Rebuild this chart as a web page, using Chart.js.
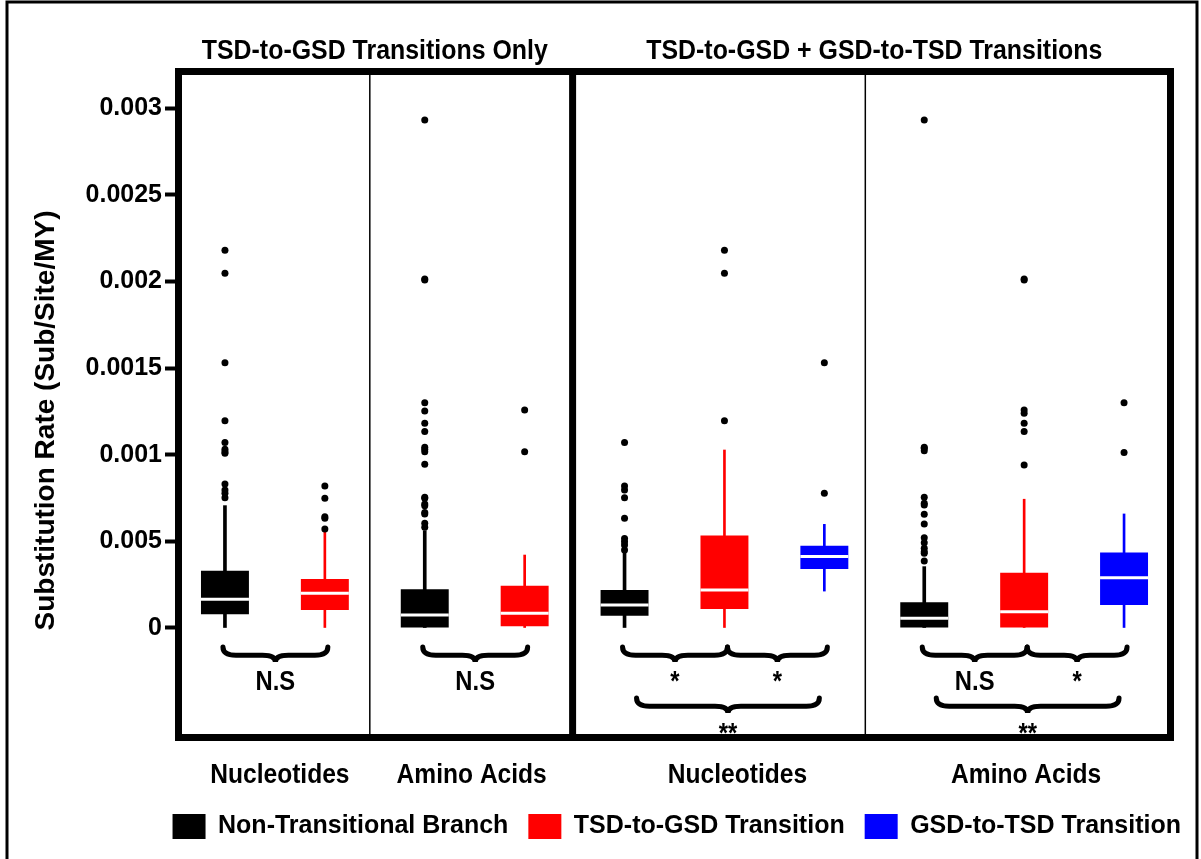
<!DOCTYPE html>
<html>
<head>
<meta charset="utf-8">
<script src="https://cdn.jsdelivr.net/npm/chart.js@4.4.1/dist/chart.umd.min.js"></script>
<style>
  html, body { margin: 0; padding: 0; background: #fff; }
  #wrap { width: 1201px; height: 859px; }
</style>
</head>
<body>
<div id="wrap"><canvas id="chart" width="1201" height="859"></canvas></div>
<script>
// one slot per box, left to right
var categories = [
  'Only|Nucleotides|Non-Transitional', 'Only|Nucleotides|TSD-to-GSD',
  'Only|Amino Acids|Non-Transitional', 'Only|Amino Acids|TSD-to-GSD',
  'Both|Nucleotides|Non-Transitional', 'Both|Nucleotides|TSD-to-GSD', 'Both|Nucleotides|GSD-to-TSD',
  'Both|Amino Acids|Non-Transitional', 'Both|Amino Acids|TSD-to-GSD', 'Both|Amino Acids|GSD-to-TSD'
];
var seriesOf = [0, 1, 0, 1, 0, 1, 2, 0, 1, 2];
var seriesNames = ['Non-Transitional Branch', 'TSD-to-GSD Transition', 'GSD-to-TSD Transition'];
var seriesColors = ['#000000', '#ff0000', '#0000ff'];

var panelLabels = ['Nucleotides', 'Amino Acids', 'Nucleotides', 'Amino Acids'];
var groupTitles = ['TSD-to-GSD Transitions Only', 'TSD-to-GSD + GSD-to-TSD Transitions'];
var yTitle = 'Substitution Rate (Sub/Site/MY)';

// box stats
var whiskerLow  = [0, 0, 0, 0, 0, 0, 0.000213, 0, 0, 0];
var q1          = [0.00008, 0.000104, 0, 0.00001, 0.000071, 0.00011, 0.00034, 0, 0, 0.000133];
var median      = [0.000166, 0.0002, 0.000075, 0.000085, 0.000133, 0.000219, 0.000412, 0.000056, 0.000094, 0.00029];
var q3          = [0.000331, 0.000283, 0.000223, 0.000244, 0.000219, 0.000533, 0.000475, 0.000148, 0.000319, 0.000435];
var whiskerHigh = [0.000706, 0.000556, 0.000561, 0.000421, 0.000435, 0.001027, 0.000598, 0.000354, 0.000743, 0.000658];
var outliers = [
  [0.000752, 0.000777, 0.000796, 0.000831, 0.001008, 0.001017, 0.001031, 0.00107, 0.001196, 0.001531, 0.002047, 0.00218],
  [0.000571, 0.000633, 0.000642, 0.000748, 0.000819],
  [0.000581, 0.000604, 0.000658, 0.000666, 0.000706, 0.000716, 0.000748, 0.000754, 0.000945, 0.001017, 0.001031, 0.001043, 0.001133, 0.001181, 0.001252, 0.0013, 0.002008, 0.002014, 0.002931],
  [0.001017, 0.001258],
  [0.00045, 0.000479, 0.000498, 0.000517, 0.000633, 0.000752, 0.000796, 0.000819, 0.00107],
  [0.001196, 0.002047, 0.00218],
  [0.000777, 0.001531],
  [0.000387, 0.000431, 0.00044, 0.00046, 0.000492, 0.000521, 0.0006, 0.000656, 0.00071, 0.00072, 0.000754, 0.001023, 0.001037, 0.001043, 0.002931],
  [0.000941, 0.001133, 0.001181, 0.001239, 0.001258, 0.002008, 0.002014],
  [0.001012, 0.0013]
];

// y tick labels as printed (0.0005 is printed as 0.005 in the figure)
var tickLabels = ['0', '0.005', '0.001', '0.0015', '0.002', '0.0025', '0.003'];

// significance brackets
var bracketFrom  = [0, 2, 4, 5, 4, 7, 8, 7];
var bracketTo    = [1, 3, 5, 6, 6, 8, 9, 9];
var bracketLevel = [0, 0, 0, 0, 1, 0, 0, 1];
var bracketText  = ['N.S', 'N.S', '*', '*', '**', 'N.S', '*', '**'];

var SANS = "'Liberation Sans', Arial, sans-serif";

var datasets = [];
seriesNames.forEach(function (name, s) {
  datasets.push({
    label: name,
    data: categories.map(function (c, i) { return seriesOf[i] === s ? [q1[i], q3[i]] : null; }),
    backgroundColor: seriesColors[s],
    borderWidth: 0,
    barPercentage: 0.48,
    categoryPercentage: 1,
    order: 2,
    yAxisID: 'y'
  });
});
seriesNames.forEach(function (name, s) {
  datasets.push({
    label: name + ' whisker',
    data: categories.map(function (c, i) { return seriesOf[i] === s ? [whiskerLow[i], whiskerHigh[i]] : null; }),
    backgroundColor: seriesColors[s],
    borderWidth: 0,
    barThickness: s === 0 ? 3 : 2,
    order: 3,
    yAxisID: 'y'
  });
});
datasets.push({
  type: 'scatter',
  label: 'median',
  data: categories.map(function (c, i) { return { x: c, y: median[i] }; }),
  pointStyle: 'line',
  pointRadius: 24,
  pointHoverRadius: 24,
  pointBorderWidth: 3,
  pointBorderColor: '#ffffff',
  order: 1,
  yAxisID: 'y'
});
var outlierPts = [];
categories.forEach(function (c, i) {
  outliers[i].forEach(function (v) { outlierPts.push({ x: c, y: v }); });
});
datasets.push({
  type: 'scatter',
  label: 'outliers',
  data: outlierPts,
  pointRadius: 3.5,
  pointBackgroundColor: '#000',
  pointBorderWidth: 0,
  order: 0,
  yAxisID: 'y'
});

// condensed-looking text: squeeze horizontally
function squeezeText(ctx, text, x, y, sx) {
  ctx.save();
  ctx.translate(x, y);
  ctx.scale(sx, 1);
  ctx.fillText(text, 0, 0);
  ctx.restore();
}

function drawBrace(ctx, x0, x1, top, h) {
  var xc = (x0 + x1) / 2, mid = top + h * 0.55, bot = top + h, r = 13;
  ctx.beginPath();
  ctx.moveTo(x0, top);
  ctx.quadraticCurveTo(x0, mid, x0 + r, mid);
  ctx.lineTo(xc - r, mid);
  ctx.quadraticCurveTo(xc, mid, xc, bot);
  ctx.quadraticCurveTo(xc, mid, xc + r, mid);
  ctx.lineTo(x1 - r, mid);
  ctx.quadraticCurveTo(x1, mid, x1, top);
  ctx.stroke();
}

var decor = {
  id: 'decor',
  beforeDraw: function (chart) {
    var ctx = chart.ctx;
    ctx.save();
    ctx.fillStyle = '#fff';
    ctx.fillRect(0, 0, chart.width, chart.height);
    // outer border
    ctx.strokeStyle = '#000';
    ctx.lineWidth = 3;
    ctx.beginPath();
    ctx.moveTo(7, chart.height);
    ctx.lineTo(7, 2);
    ctx.lineTo(chart.width - 4, 2);
    ctx.lineTo(chart.width - 4, chart.height);
    ctx.stroke();
    ctx.restore();
  },
  afterDraw: function (chart) {
    var ctx = chart.ctx, a = chart.chartArea, x = chart.scales.x, y = chart.scales.y;
    var zero = y.getPixelForValue(0);
    ctx.save();
    ctx.strokeStyle = '#000';
    // panel dividers
    ctx.lineWidth = 1.5;
    [1.45, 6.41].forEach(function (d) {
      var px = x.getPixelForValue(d);
      ctx.beginPath(); ctx.moveTo(px, a.top); ctx.lineTo(px, a.bottom); ctx.stroke();
    });
    ctx.lineWidth = 7;
    var mx = x.getPixelForValue(3.48);
    ctx.beginPath(); ctx.moveTo(mx, a.top); ctx.lineTo(mx, a.bottom); ctx.stroke();
    ctx.strokeRect(a.left + 3.5, a.top + 3.5, a.right - a.left - 7, a.bottom - a.top - 7);

    // brackets
    ctx.lineWidth = 5;
    ctx.lineCap = 'round';
    ctx.fillStyle = '#000';
    ctx.textAlign = 'center';
    ctx.textBaseline = 'alphabetic';
    ctx.font = 'bold 28px ' + SANS;
    for (var k = 0; k < bracketFrom.length; k++) {
      var x0 = x.getPixelForValue(bracketFrom[k]), x1 = x.getPixelForValue(bracketTo[k]);
      if (bracketLevel[k] === 0) {
        x0 -= 2; x1 += 3;
        var prev = bracketTo.indexOf(bracketFrom[k]);
        if (prev >= 0 && bracketLevel[prev] === 0) x0 += 5;
        drawBrace(ctx, x0, x1, zero + 19, 15);
        squeezeText(ctx, bracketText[k], (x0 + x1) / 2, zero + 62, 0.85);
      } else {
        x0 += 12; x1 -= 5;
        drawBrace(ctx, x0, x1, zero + 70, 15);
        squeezeText(ctx, bracketText[k], (x0 + x1) / 2, zero + 114, 0.85);
      }
    }

    // panel labels and group titles
    ctx.textBaseline = 'middle';
    ctx.font = 'bold 27px ' + SANS;
    [0.55, 2.47, 5.13, 8.02].forEach(function (p, i) {
      squeezeText(ctx, panelLabels[i], x.getPixelForValue(p), a.bottom + 35, 0.91);
    });
    ctx.font = 'bold 28px ' + SANS;
    [1.5, 6.5].forEach(function (p, i) {
      squeezeText(ctx, groupTitles[i], x.getPixelForValue(p), a.top - 17, 0.89);
    });

    // y axis title
    ctx.save();
    ctx.translate(46, (a.top + a.bottom) / 2 + 16);
    ctx.rotate(-Math.PI / 2);
    ctx.font = 'bold 28px ' + SANS;
    ctx.fillText(yTitle, 0, 0);
    ctx.restore();
    ctx.restore();
  }
};

new Chart(document.getElementById('chart').getContext('2d'), {
  type: 'bar',
  data: { labels: categories, datasets: datasets },
  options: {
    responsive: false,
    animation: false,
    layout: { padding: { top: 68, left: 0, right: 0, bottom: 10 } },
    datasets: { bar: { grouped: false } },
    plugins: {
      tooltip: { enabled: false },
      legend: {
        position: 'bottom',
        align: 'end',
        labels: {
          filter: function (item) { return item.datasetIndex < 3; },
          boxWidth: 33,
          boxHeight: 25,
          padding: 20,
          color: '#000',
          font: { family: SANS, size: 25, weight: 'bold' }
        }
      }
    },
    scales: {
      x: {
        type: 'category',
        offset: true,
        grid: { display: false },
        border: { display: false },
        ticks: { display: false },
        afterFit: function (s) { s.height = 53; }
      },
      y: {
        min: -0.000652,
        max: 0.003231,
        border: { display: false },
        grid: { drawOnChartArea: false, drawTicks: true, tickLength: 10, tickWidth: 4, tickColor: '#000' },
        afterBuildTicks: function (s) { s.ticks = s.ticks.filter(function (t) { return t.value > -1e-9; }); },
        ticks: {
          stepSize: 0.0005,
          includeBounds: false,
          padding: 3,
          color: '#000',
          font: { family: SANS, size: 25, weight: 'bold' },
          callback: function (v) { return tickLabels[Math.round(v / 0.0005)]; }
        },
        afterFit: function (s) { s.width = 175; }
      },
      y2: {
        position: 'right',
        grid: { display: false },
        border: { display: false },
        ticks: { display: false },
        afterFit: function (s) { s.width = 26; }
      }
    }
  },
  plugins: [decor]
});
</script>
</body>
</html>
